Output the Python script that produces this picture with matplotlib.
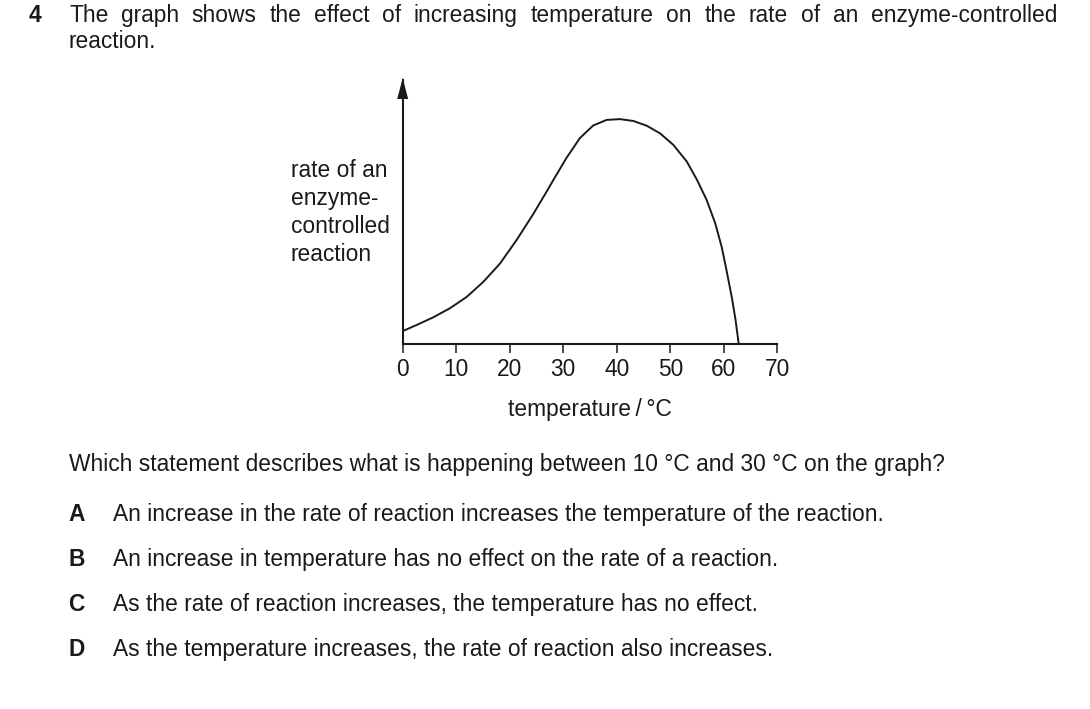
import matplotlib
matplotlib.use('Agg')
import matplotlib.pyplot as plt
from matplotlib.patches import Polygon
from matplotlib import font_manager

# ---- data ----
temperature = [0, 2.6, 5.7, 8.8, 12.0, 15.1, 18.2, 21.3, 24.4, 26.9, 28.1, 30.6,
               33.1, 35.6, 38.1, 40.6, 43.1, 45.6, 48.1, 50.6, 53.1, 55.0, 56.8,
               58.4, 59.6, 60.5, 61.5, 62.2, 62.8]
rate = [5.0, 7.3, 10.2, 13.6, 18.0, 23.7, 30.6, 39.5, 49.3, 57.8, 62.0, 70.5,
        78.0, 82.8, 84.9, 85.2, 84.5, 82.7, 79.8, 75.4, 69.1, 62.2, 54.6,
        45.8, 36.9, 28.1, 17.8, 9.2, 0.0]
x_ticks = [0, 10, 20, 30, 40, 50, 60, 70]
x_label = 'temperature\u2009/\u2009°C'
y_label_lines = ['rate of an', 'enzyme-', 'controlled', 'reaction']
q_number = '4'
intro_line1 = 'The graph shows the effect of increasing temperature on the rate of an enzyme-controlled'
intro_line2 = 'reaction.'
question = 'Which statement describes what is happening between 10 °C and 30 °C on the graph?'
option_letters = ['A', 'B', 'C', 'D']
option_texts = [
    'An increase in the rate of reaction increases the temperature of the reaction.',
    'An increase in temperature has no effect on the rate of a reaction.',
    'As the rate of reaction increases, the temperature has no effect.',
    'As the temperature increases, the rate of reaction also increases.',
]

W, H = 1090, 709
plt.rcParams['font.family'] = ['Liberation Sans', 'DejaVu Sans']
names = {f.name for f in font_manager.fontManager.ttflist}
narrow = 'Liberation Sans Narrow' if 'Liberation Sans Narrow' in names else 'Liberation Sans'

fig = plt.figure(figsize=(W / 100, H / 100), dpi=100)


def fx(px):
    return px / W


def fy(py):
    return 1 - py / H


INK = '#1a1a1a'
FS = 16.4

# ---- axes ----
x0, x1, ybot, ytop = 402.7, 777.3, 344.3, 80.0
ax = fig.add_axes([fx(x0), fy(ybot), (x1 - x0) / W, (ybot - ytop) / H])
ax.plot(temperature, rate, color=INK, lw=1.4, clip_on=False,
        solid_joinstyle='round', solid_capstyle='butt')
ax.set_xlim(0, 70)
ax.set_ylim(0, 100)
for s in ['top', 'right']:
    ax.spines[s].set_visible(False)
for s in ['left', 'bottom']:
    ax.spines[s].set_linewidth(1.5)
    ax.spines[s].set_color(INK)
ax.set_xticks(x_ticks)
ax.set_xticklabels([str(t) for t in x_ticks])
ax.set_yticks([])
ax.tick_params(axis='x', direction='out', length=6.5, width=1.1, pad=3.5,
               labelsize=FS, colors=INK)

# arrow head on y axis
fig.add_artist(Polygon([[fx(x0), fy(78)], [fx(x0 - 5.5), fy(99)], [fx(x0 + 5.5), fy(99)]],
                       closed=True, transform=fig.transFigure, color=INK, lw=0))

# y label
for i, line in enumerate(y_label_lines):
    fig.text(fx(291), fy(177 + 28 * i), line, fontsize=FS, color=INK, va='baseline', ha='left')

# x label
fig.text(fx(590), fy(416), x_label, fontsize=FS, color=INK, va='baseline', ha='center')

# ---- header text (justified first line) ----
fig.text(fx(29), fy(22), q_number, fontsize=FS, fontweight='bold', color=INK, va='baseline')
fig.canvas.draw()
r = fig.canvas.get_renderer()
words = intro_line1.split(' ')
tmp = [fig.text(0, 0, w, fontsize=FS, family=narrow, color=INK) for w in words]
widths = [t.get_window_extent(r).width for t in tmp]
for t in tmp:
    t.remove()
left, right = 69, 1057
gap = (right - left - sum(widths)) / (len(words) - 1)
xpos = left
for w, wd in zip(words, widths):
    fig.text(fx(xpos), fy(22), w, fontsize=FS, family=narrow, color=INK, va='baseline')
    xpos += wd + gap
fig.text(fx(69), fy(48), intro_line2, fontsize=FS, family=narrow, color=INK, va='baseline')

# ---- question ----
fig.text(fx(69), fy(471), question, fontsize=FS, color=INK, va='baseline')
for i, (L, txt) in enumerate(zip(option_letters, option_texts)):
    yb = 521 + 45 * i
    fig.text(fx(68), fy(yb), L, fontsize=FS, fontweight='bold', color=INK, va='baseline')
    fig.text(fx(113), fy(yb), txt, fontsize=FS, color=INK, va='baseline')

fig.savefig('out.png', dpi=100, facecolor='white')
